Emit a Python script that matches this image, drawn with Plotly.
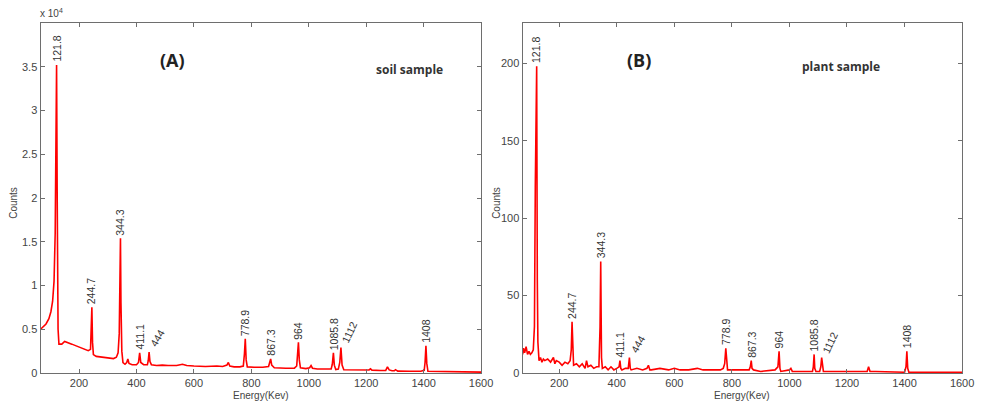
import plotly.graph_objects as go

# ---------------- data ----------------
soil_energy = [66, 75, 85, 95, 102, 108, 113, 117, 119, 121.8, 124, 127, 130, 140, 150, 160, 175, 190, 205, 220,
               232, 240, 242, 244.7, 247, 250, 260, 280, 300, 320, 330, 336, 340, 342, 344.3, 346, 349, 353, 360,
               366, 370, 374, 385, 400, 407, 411.1, 415, 425, 438, 441, 444, 447, 452, 470, 490, 510, 540, 560,
               575, 600, 640, 680, 700, 715, 720, 725, 740, 760, 772, 776, 778.9, 782, 786, 810, 840, 860, 864,
               867.3, 871, 880, 920, 950, 958, 961, 964, 967, 971, 990, 1003, 1008, 1013, 1030, 1060, 1078, 1082,
               1085.8, 1089, 1094, 1103, 1108, 1112, 1116, 1122, 1160, 1200, 1210, 1215, 1220, 1250, 1268, 1274,
               1280, 1290, 1298, 1302, 1310, 1350, 1390, 1402, 1405, 1408, 1411, 1415, 1450, 1500, 1550, 1600]
soil_counts = [5000, 5300, 5600, 6200, 7000, 8200, 10500, 16000, 25000, 35200, 20000, 5000, 3300, 3300, 3600, 3500,
               3300, 3100, 2900, 2700, 2550, 2700, 4500, 7500, 3500, 2100, 1900, 1800, 1700, 1650, 1800, 2300,
               4500, 9000, 15400, 8000, 2500, 1200, 1000, 1200, 1600, 1100, 950, 950, 1200, 2300, 1200, 950, 950,
               1400, 2400, 1300, 950, 850, 900, 850, 850, 1000, 850, 800, 750, 800, 750, 900, 1200, 800, 700, 700,
               800, 2200, 3900, 1500, 700, 650, 650, 750, 1100, 1600, 900, 600, 550, 550, 800, 2000, 3500, 1500,
               600, 500, 600, 850, 550, 450, 420, 450, 1000, 2300, 900, 400, 450, 1200, 2900, 900, 380, 350, 330,
               350, 480, 330, 280, 300, 700, 350, 250, 250, 380, 220, 200, 200, 300, 1200, 3100, 1100, 200, 180,
               150, 120, 100]

plant_energy = [73, 76, 80, 85, 90, 95, 100, 105, 110, 114, 117, 119, 121.8, 124, 126, 130, 135, 140, 145, 150,
                160, 170, 180, 185, 190, 200, 210, 220, 230, 238, 242, 244.7, 247, 250, 260, 270, 280, 290, 295,
                300, 310, 320, 330, 338, 342, 344.3, 347, 350, 360, 370, 380, 390, 400, 408, 411.1, 414, 418, 430,
                440, 444, 447, 450, 470, 490, 505, 510, 515, 520, 550, 580, 600, 620, 650, 680, 700, 730, 760, 770,
                775, 778.9, 782, 785, 800, 830, 860, 864, 867.3, 870, 875, 900, 950, 960, 964, 967, 970, 1000,
                1005, 1010, 1050, 1080, 1083, 1085.8, 1088, 1092, 1105, 1109, 1112, 1115, 1118, 1150, 1200, 1270,
                1275, 1280, 1300, 1400, 1405, 1408, 1411, 1415, 1500, 1600]
plant_counts = [12, 16, 13, 17, 12, 14, 12, 13, 15, 30, 120, 175, 198, 60, 20, 8, 10, 7, 9, 8,
                9, 7, 10, 6, 8, 7, 5, 7, 6, 8, 15, 33, 12, 5, 6, 4, 6, 3, 8,
                4, 5, 3, 4, 4, 30, 72, 10, 3, 4, 2, 4, 2, 3, 4, 8, 3, 2, 3,
                3, 10, 3, 2, 3, 2, 3, 5, 2, 2, 3, 2, 3, 2, 2, 3, 2, 2, 2, 3,
                6, 16, 5, 2, 2, 2, 2, 4, 8, 3, 2, 1, 2, 4, 14, 3, 1, 2,
                3, 1, 1, 1, 4, 12, 3, 1, 1, 4, 10, 3, 1, 1, 1, 1,
                4, 1, 1, 0.5, 4, 14, 3, 0.5, 0.5, 0.5]

peak_energy = [121.8, 244.7, 344.3, 411.1, 444, 778.9, 867.3, 964, 1085.8, 1112, 1408]
peak_labels = ["121.8", "244.7", "344.3", "411.1", "444", "778.9", "867.3", "964", "1085.8", "1112", "1408"]
peak_angles = [-90, -90, -90, -90, -60, -90, -90, -90, -90, -65, -90]

x_ticks = [200, 400, 600, 800, 1000, 1200, 1400, 1600]
soil_yticks = [0, 5000, 10000, 15000, 20000, 25000, 30000, 35000]
soil_yticktext = ["0", "0.5", "1", "1.5", "2", "2.5", "3", "3.5"]
plant_yticks = [0, 50, 100, 150, 200]

# ---------------- figure ----------------
W, H = 984, 402
top, bottom = 23, 373
fig = go.Figure()
fig.add_trace(go.Scatter(x=soil_energy, y=soil_counts, mode="lines",
                         line=dict(color="#ff0000", width=1.6), xaxis="x", yaxis="y",
                         showlegend=False, hoverinfo="skip"))
fig.add_trace(go.Scatter(x=plant_energy, y=plant_counts, mode="lines",
                         line=dict(color="#ff0000", width=1.6), xaxis="x2", yaxis="y2",
                         showlegend=False, hoverinfo="skip"))

FONT = "Liberation Sans, Arial, sans-serif"
axis_common = dict(showline=True, linecolor="#6e6e6e", linewidth=1, mirror="ticks", ticks="inside",
                   ticklen=4, tickcolor="#6e6e6e", showgrid=False, zeroline=False,
                   tickfont=dict(family=FONT, size=11, color="#444"))

L1, R1 = 41 / W, 487 / W
L2, R2 = 529 / W, 974 / W
fig.update_layout(
    width=W, height=H, margin=dict(l=0, r=0, t=top, b=H - bottom),
    paper_bgcolor="white", plot_bgcolor="white",
    xaxis=dict(domain=[L1, R1], range=[65.8, 1600], tickvals=x_ticks, anchor="y", **axis_common),
    yaxis=dict(domain=[0, 1], range=[0, 40000], tickvals=soil_yticks, ticktext=soil_yticktext,
               anchor="x", **axis_common),
    xaxis2=dict(domain=[L2, R2], range=[72.7, 1600], tickvals=x_ticks, anchor="y2", **axis_common),
    yaxis2=dict(domain=[0, 1], range=[0, 226], tickvals=plant_yticks, anchor="x2", **axis_common),
)

ph = bottom - top


def py(pix):
    return (bottom - pix) / ph


anns = []
lookup_soil = dict(zip(soil_energy, soil_counts))
lookup_plant = dict(zip(plant_energy, plant_counts))
for xa, ya, lk, yr in [("x", "y", lookup_soil, 40000), ("x2", "y2", lookup_plant, 226)]:
    for e, lab, ang in zip(peak_energy, peak_labels, peak_angles):
        yv = lk[e]
        if ang == -90:
            anns.append(dict(x=e, y=yv, xref=xa, yref=ya, text=lab, textangle=-90, showarrow=False,
                             xanchor="center", yanchor="bottom", yshift=1,
                             font=dict(family=FONT, size=10.5, color="#333")))
        else:
            anns.append(dict(x=e, y=yv, xref=xa, yref=ya, text=lab, textangle=ang, showarrow=False,
                             xanchor="left", yanchor="bottom", xshift=-4, yshift=0,
                             font=dict(family=FONT, size=10.5, color="#333")))

# multiplier label
anns.append(dict(x=38 / W, y=py(13), xref="paper", yref="paper", text="x 10<sup>4</sup>", showarrow=False,
                 xanchor="left", yanchor="middle", font=dict(family=FONT, size=10, color="#444")))
# axis titles
for cx, cy in [(264 / W, py(396)), (751 / W, py(396))]:
    anns.append(dict(x=cx, y=cy, xref="paper", yref="paper", text="Energy(Kev)", showarrow=False,
                     xanchor="center", yanchor="middle", font=dict(family=FONT, size=10, color="#444")))
for cx in [14 / W, 503 / W]:
    anns.append(dict(x=cx, y=py(203), xref="paper", yref="paper", text="Counts", showarrow=False,
                     textangle=-90, xanchor="center", yanchor="middle",
                     font=dict(family=FONT, size=10, color="#444")))
# panel labels
TF = "Open Sans, Liberation Sans, sans-serif"
anns.append(dict(x=160 / W, y=py(46), xref="paper", yref="paper", text="<b>(A)</b>", showarrow=False,
                 font=dict(family=TF, size=18, color="#222")))
anns.append(dict(x=415 / W, y=py(59), xref="paper", yref="paper", text="<b>soil sample</b>", showarrow=False,
                 font=dict(family=TF, size=12, color="#333")))
anns.append(dict(x=647 / W, y=py(46), xref="paper", yref="paper", text="<b>(B)</b>", showarrow=False,
                 font=dict(family=TF, size=18, color="#222")))
anns.append(dict(x=893 / W, y=py(56), xref="paper", yref="paper", text="<b>plant sample</b>", showarrow=False,
                 font=dict(family=TF, size=12, color="#333")))

fig.update_layout(annotations=anns)
fig.write_html("out.html")
